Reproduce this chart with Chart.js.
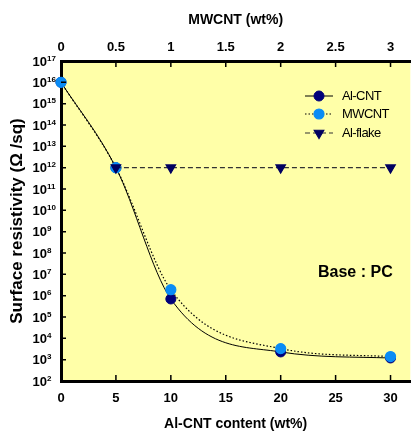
<!DOCTYPE html>
<html lang="en">
<head>
<meta charset="UTF-8">
<title>Surface resistivity vs. filler content</title>
<script src="https://cdn.jsdelivr.net/npm/chart.js@4"></script>
<style>
  body { margin: 0; background: #fff; overflow: hidden; }
  canvas { display: block; }
</style>
</head>
<body>
<canvas id="res" width="417" height="436"></canvas>
<script>
// data
const alCntContent = [0, 5, 10, 20, 30];          // Al-CNT wt% (bottom axis)
const alCntRho = [1e16, 1e12, 7e5, 2.3e3, 1.2e3];
const mwcntContent = [0, 0.5, 1, 2, 3];           // MWCNT wt% (top axis)
const mwcntRho = [1e16, 1e12, 1.9e6, 3.3e3, 1.4e3];
const flakeContent = [5, 10, 20, 30];
const flakeRho = [1e12, 1e12, 1e12, 1e12];
const bottomTicks = [0, 5, 10, 15, 20, 25, 30];
const topTicks = [0, 0.5, 1, 1.5, 2, 2.5, 3];
const yExponents = [2, 3, 4, 5, 6, 7, 8, 9, 10, 11, 12, 13, 14, 15, 16, 17];

const FONT = '"Liberation Sans", Arial, sans-serif';
const NAVY = '#00007a';
const SKY = '#0a8cf5';

const toXY = (xs, ys) => xs.map((x, i) => ({x: x, y: ys[i]}));

// yellow plot area, inward ticks, y labels with exponents, legend and note
const frame = {
  id: 'frame',
  beforeDraw(chart) {
    const {ctx, chartArea: a} = chart;
    ctx.save();
    ctx.fillStyle = '#ffffa8';
    ctx.fillRect(a.left, a.top, a.right - a.left, a.bottom - a.top);
    ctx.restore();
  },
  afterDraw(chart) {
    const {ctx, chartArea: a, scales} = chart;
    ctx.save();
    ctx.strokeStyle = '#000';
    ctx.lineWidth = 1.5;
    ctx.beginPath();
    scales.y.ticks.forEach(t => {
      const p = scales.y.getPixelForValue(t.value);
      ctx.moveTo(a.left, p); ctx.lineTo(a.left + 5, p);
    });
    scales.x.ticks.forEach(t => {
      const p = scales.x.getPixelForValue(t.value);
      ctx.moveTo(p, a.bottom); ctx.lineTo(p, a.bottom - 6);
    });
    scales.x2.ticks.forEach(t => {
      const p = scales.x2.getPixelForValue(t.value);
      ctx.moveTo(p, a.top); ctx.lineTo(p, a.top + 6);
    });
    ctx.stroke();

    // y tick labels 10^n
    ctx.fillStyle = '#000';
    scales.y.ticks.forEach(t => {
      const p = scales.y.getPixelForValue(t.value);
      const e = Math.round(Math.log10(t.value));
      ctx.font = 'bold 13px ' + FONT;
      ctx.textAlign = 'right';
      ctx.textBaseline = 'middle';
      ctx.fillText('10', 47, p + 1);
      ctx.font = 'bold 8px ' + FONT;
      ctx.textAlign = 'left';
      ctx.textBaseline = 'alphabetic';
      ctx.fillText(String(e), 47, p - 0.5);
    });

    // legend
    const rows = [
      {label: 'Al-CNT', y: 96, ds: 0},
      {label: 'MWCNT', y: 114, ds: 1},
      {label: 'Al-flake', y: 133, ds: 2}
    ];
    rows.forEach(r => {
      const d = chart.data.datasets[r.ds];
      ctx.save();
      ctx.strokeStyle = d.borderColor;
      ctx.lineWidth = d.borderWidth;
      ctx.setLineDash(d.borderDash || []);
      ctx.beginPath();
      ctx.moveTo(305, r.y); ctx.lineTo(333, r.y);
      ctx.stroke();
      ctx.setLineDash([]);
      ctx.fillStyle = d.pointBackgroundColor;
      ctx.strokeStyle = d.pointBorderColor;
      Chart.helpers.drawPoint(ctx, {
        pointStyle: d.pointStyle, rotation: d.pointRotation || 0,
        radius: d.pointRadius, borderWidth: 1
      }, 319, r.y);
      ctx.restore();
      ctx.fillStyle = '#000';
      ctx.font = '13px ' + FONT;
      ctx.letterSpacing = '-0.6px';
      ctx.textAlign = 'left';
      ctx.textBaseline = 'middle';
      ctx.fillText(r.label, 342, r.y);
    });

    ctx.letterSpacing = '0px';
    ctx.font = 'bold 16px ' + FONT;
    ctx.textBaseline = 'middle';
    ctx.fillText('Base : PC', 318, 273);
    ctx.restore();
  }
};

const tickFont = {family: FONT, size: 13, weight: 'bold'};
const titleFont = {family: FONT, size: 14, weight: 'bold'};

new Chart(document.getElementById('res'), {
  type: 'scatter',
  data: {
    datasets: [{
      label: 'Al-CNT',
      data: toXY(alCntContent, alCntRho),
      xAxisID: 'x',
      showLine: true,
      cubicInterpolationMode: 'monotone',
      borderColor: '#000',
      borderWidth: 1,
      pointStyle: 'circle',
      pointRadius: 5,
      pointBackgroundColor: NAVY,
      pointBorderColor: NAVY,
      order: 2,
      clip: 10
    }, {
      label: 'MWCNT',
      data: toXY(mwcntContent, mwcntRho),
      xAxisID: 'x2',
      showLine: true,
      cubicInterpolationMode: 'monotone',
      borderColor: '#000',
      borderWidth: 1.2,
      borderDash: [1.5, 2],
      pointStyle: 'circle',
      pointRadius: 5,
      pointBackgroundColor: SKY,
      pointBorderColor: SKY,
      order: 1,
      clip: 10
    }, {
      label: 'Al-flake',
      data: toXY(flakeContent, flakeRho),
      xAxisID: 'x',
      showLine: true,
      borderColor: '#333',
      borderWidth: 1.2,
      borderDash: [5, 3],
      pointStyle: 'triangle',
      pointRotation: 180,
      pointRadius: 5.5,
      pointBackgroundColor: '#000060',
      pointBorderColor: '#000060',
      order: 0,
      clip: 10
    }]
  },
  options: {
    responsive: false,
    devicePixelRatio: 1,
    animation: false,
    layout: {padding: 0},
    plugins: {legend: {display: false}, tooltip: {enabled: false}},
    scales: {
      x: {
        type: 'linear', position: 'bottom', min: 0, max: 31.8,
        afterBuildTicks: s => { s.ticks = bottomTicks.map(v => ({value: v})); },
        afterFit: s => { s.height = 55; },
        grid: {display: false, drawTicks: false},
        border: {display: true, color: '#000', width: 3},
        ticks: {color: '#000', font: tickFont, padding: 10, maxRotation: 0, autoSkip: false,
                callback: v => String(v)},
        title: {display: true, text: 'Al-CNT content (wt%)', color: '#000', font: titleFont,
                padding: {top: 0, bottom: 3}}
      },
      x2: {
        type: 'linear', position: 'top', min: 0, max: 3.18,
        afterBuildTicks: s => { s.ticks = topTicks.map(v => ({value: v})); },
        afterFit: s => { s.height = 61; },
        grid: {display: false, drawTicks: false},
        border: {display: true, color: '#000', width: 3},
        ticks: {color: '#000', font: tickFont, padding: 6, maxRotation: 0, autoSkip: false,
                callback: v => String(v)},
        title: {display: true, text: 'MWCNT (wt%)', color: '#000', font: titleFont,
                padding: {top: 12, bottom: 0}}
      },
      y: {
        type: 'logarithmic', position: 'left', min: 1e2, max: 1e17,
        afterBuildTicks: s => { s.ticks = yExponents.map(e => ({value: Math.pow(10, e)})); },
        afterFit: s => { s.width = 61; },
        grid: {display: false, drawTicks: false},
        border: {display: true, color: '#000', width: 3},
        ticks: {display: false},
        title: {display: true, text: 'Surface resistivity (\u03A9 /sq)', color: '#000',
                font: {family: FONT, size: 17, weight: 'bold'}, padding: {top: 7, bottom: 0}}
      }
    }
  },
  plugins: [frame]
});
</script>
</body>
</html>
